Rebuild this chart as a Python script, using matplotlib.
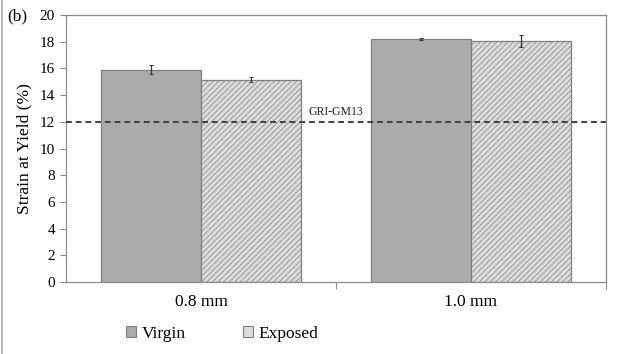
import matplotlib
matplotlib.use("Agg")
import matplotlib.pyplot as plt
import numpy as np
from matplotlib.patches import Rectangle

categories = ["0.8 mm", "1.0 mm"]
series_names = ["Virgin", "Exposed"]
virgin = [15.9, 18.2]
virgin_err = [0.35, 0.05]
exposed = [15.15, 18.05]
exposed_err = [0.18, 0.42]
ref_value = 12
ref_label = "GRI-GM13"
yticks = [0, 2, 4, 6, 8, 10, 12, 14, 16, 18, 20]

plt.rcParams['font.family'] = ['Liberation Serif', 'DejaVu Serif']
plt.rcParams['hatch.color'] = '#d2d2d2'
plt.rcParams['hatch.linewidth'] = 0.5

fig = plt.figure(figsize=(6.2, 3.54), dpi=100)
ax = fig.add_axes([66/620, 1-282/354, 540/620, 267/354])

x = np.arange(len(categories))
w = 0.37
ax.bar(x - w/2, virgin, w, color='#ababab', edgecolor='#7f7f7f', linewidth=0.9, zorder=2)
ax.bar(x + w/2, exposed, w, color='#dcdcdc', edgecolor='#7f7f7f', linewidth=0.9,
       hatch='//////', zorder=2)
ax.errorbar(x - w/2, virgin, yerr=virgin_err, fmt='none', ecolor='#333333', elinewidth=0.9,
            capsize=1.2, capthick=0.7, zorder=3)
ax.errorbar(x + w/2, exposed, yerr=exposed_err, fmt='none', ecolor='#333333', elinewidth=0.9,
            capsize=1.2, capthick=0.7, zorder=3)

ax.axhline(ref_value, color='#404040', linestyle=(0, (3, 2)), linewidth=1.4, zorder=4)
ax.text(0.5, ref_value + 0.3, ref_label, ha='center', va='bottom', fontsize=8.5, color='#222222')

ax.set_xlim(-0.5, 1.5)
ax.set_ylim(0, 20)
ax.set_yticks(yticks)
ax.set_xticks(x)
ax.set_xticklabels(categories, fontsize=12.5)
ax.tick_params(axis='x', length=0, pad=9)
ax.set_xticks([0.5, 1.5], minor=True)
ax.tick_params(axis='x', which='minor', length=5, color='#8c8c8c', width=0.8)
ax.tick_params(axis='y', labelsize=11, length=4, color='#8c8c8c', width=0.8, pad=4)
for s in ax.spines.values():
    s.set_color('#8c8c8c')
    s.set_linewidth(0.9)
ax.set_ylabel("Strain at Yield (%)", fontsize=12.5, labelpad=5)

fig.text(17/620, 1-16/354, "(b)", fontsize=12.5, ha='center', va='center')

handles = [Rectangle((0, 0), 1, 1, facecolor='#ababab', edgecolor='#7f7f7f', linewidth=0.8),
           Rectangle((0, 0), 1, 1, facecolor='#dcdcdc', edgecolor='#7f7f7f', linewidth=0.8)]
fig.legend(handles, series_names, loc='center', bbox_to_anchor=(222/620, 1-334/354), ncol=2,
           frameon=False, fontsize=12.5, handlelength=0.6, handleheight=0.6,
           handletextpad=0.3, columnspacing=3.3)

fig.add_artist(plt.Line2D([1.5/620, 1.5/620], [0, 1], color='#bbbbbb', linewidth=1.5))

fig.savefig("out.png", dpi=100)
